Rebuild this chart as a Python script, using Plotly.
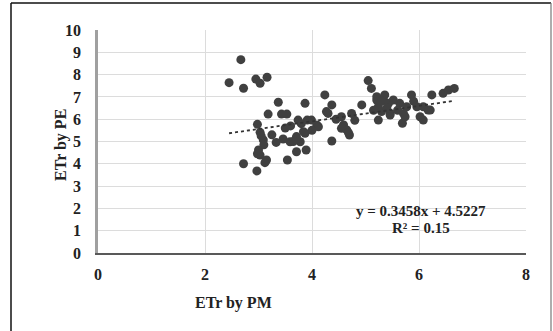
import plotly.graph_objects as go

# Daily reference evapotranspiration: Penman-Monteith (x) vs pan evaporation (y)
etr_pm = [2.67, 2.45, 2.72, 2.95, 3.03, 3.16, 3.37, 3.87, 3.18, 3.43,
          3.53, 2.98, 3.74, 3.91, 4.09, 3.03, 3.09, 3.33, 3.46, 3.59,
          3.78, 3.87, 3.00, 3.03, 3.15, 3.71, 3.89, 3.54, 2.72, 2.97,
          3.10, 3.05, 2.98, 3.12, 3.84, 3.71, 3.60, 3.80, 4.24, 4.37,
          4.27, 4.30, 4.93, 4.74, 4.55, 4.59, 4.65, 4.70, 4.55, 4.68,
          4.12, 3.99, 4.37, 5.05, 5.11, 5.21, 5.33, 5.43, 5.24, 5.30,
          5.24, 5.46, 5.64, 5.71, 5.69, 5.77, 5.36, 5.52, 5.86, 5.74,
          6.08, 6.02, 6.24, 6.21, 6.45, 6.55, 6.66, 5.96, 5.46, 6.08,
          6.17, 5.21, 5.30, 5.40, 5.60, 5.90, 5.15, 4.45, 4.80, 4.00,
          3.25, 3.50, 3.65]
etr_pe = [8.67, 7.64, 7.39, 7.80, 7.61, 7.88, 6.76, 6.71, 6.23, 6.23,
          6.23, 5.77, 5.96, 5.96, 5.74, 5.41, 5.07, 4.96, 5.11, 4.99,
          4.99, 5.37, 4.62, 4.39, 4.17, 4.54, 4.62, 4.17, 4.00, 3.68,
          4.85, 5.25, 4.45, 4.05, 5.44, 5.22, 5.70, 5.80, 7.09, 6.64,
          6.34, 6.26, 6.64, 6.26, 6.11, 5.74, 5.52, 5.29, 5.59, 5.40,
          5.66, 5.96, 5.02, 7.73, 7.38, 7.01, 6.94, 6.71, 6.56, 6.34,
          5.96, 6.26, 6.71, 6.26, 5.82, 6.56, 7.09, 6.86, 7.09, 6.11,
          5.96, 6.11, 7.09, 6.41, 7.16, 7.31, 7.38, 6.56, 6.19, 6.56,
          6.41, 6.86, 6.80, 6.50, 6.40, 6.80, 6.40, 6.00, 5.95, 5.50,
          5.30, 5.60, 5.00]

# Linear trendline coefficients
slope = 0.3458
intercept = 4.5227
r_squared = 0.15

x_ticks = [0, 2, 4, 6, 8]
y_ticks = list(range(0, 11))

font_family = "Liberation Serif"
dark = "#404040"
text_color = "#222222"

x_min, x_max = min(etr_pm), max(etr_pm)
trend_x = [x_min, x_max]
trend_y = [slope * v + intercept for v in trend_x]

fig = go.Figure()
fig.add_trace(go.Scatter(
    x=etr_pm, y=etr_pe, mode="markers",
    marker=dict(color=dark, size=9, line=dict(width=0)),
    showlegend=False, hoverinfo="x+y",
))
fig.add_trace(go.Scatter(
    x=trend_x, y=trend_y, mode="lines",
    line=dict(color="#333333", width=1.8, dash="dot"),
    showlegend=False, hoverinfo="skip",
))

W, H = 553, 331
ml, mr, mt, mb = 98, 27, 30, 78
pw, ph = W - ml - mr, H - mt - mb


def px_x(p):
    return (p - ml) / pw


def px_y(p):
    return (H - mb - p) / ph


fig.add_annotation(
    x=px_x(421), y=px_y(211), xref="paper", yref="paper",
    text=f"<b>y = {slope}x + {intercept}</b>", showarrow=False,
    font=dict(family=font_family, size=15, color=text_color),
    xanchor="center", yanchor="middle",
)
fig.add_annotation(
    x=px_x(421), y=px_y(228), xref="paper", yref="paper",
    text=f"<b>R² = {r_squared}</b>", showarrow=False,
    font=dict(family=font_family, size=15, color=text_color),
    xanchor="center", yanchor="middle",
)
fig.add_annotation(
    x=px_x(233), y=px_y(303), xref="paper", yref="paper",
    text="<b>ETr by PM</b>", showarrow=False,
    font=dict(family=font_family, size=16, color=text_color),
    xanchor="center", yanchor="middle",
)
fig.add_annotation(
    x=px_x(61), y=px_y(145), xref="paper", yref="paper",
    text="<b>ETr by PE</b>", showarrow=False, textangle=-90,
    font=dict(family=font_family, size=16, color=text_color),
    xanchor="center", yanchor="middle",
)

# Outer chart frame
fig.add_shape(type="line", xref="paper", yref="paper",
              x0=px_x(11), x1=px_x(551), y0=px_y(3), y1=px_y(3),
              line=dict(color="#111111", width=1.5))
fig.add_shape(type="line", xref="paper", yref="paper",
              x0=px_x(11), x1=px_x(11), y0=px_y(3), y1=px_y(331),
              line=dict(color="#111111", width=1.5))
fig.add_shape(type="line", xref="paper", yref="paper",
              x0=px_x(551), x1=px_x(551), y0=px_y(3), y1=px_y(331),
              line=dict(color="#777777", width=1.2))

fig.update_layout(
    width=W, height=H,
    margin=dict(l=ml, r=mr, t=mt, b=mb),
    paper_bgcolor="white", plot_bgcolor="white",
    font=dict(family=font_family, size=16, color=text_color),
    xaxis=dict(
        range=[0, 8], tickvals=x_ticks, ticktext=[f"<b>{t}</b>" for t in x_ticks],
        showgrid=True, gridcolor="#dcdcdc", gridwidth=1,
        showline=True, linecolor="#595959", linewidth=2,
        zeroline=False, ticks="", ticklen=0, ticklabelstandoff=6,
    ),
    yaxis=dict(
        range=[0, 10], tickvals=y_ticks, ticktext=[f"<b>{t}</b>" for t in y_ticks],
        showgrid=True, gridcolor="#dcdcdc", gridwidth=1,
        showline=True, linecolor="#a0a0a0", linewidth=2.5,
        zeroline=False, ticks="", ticklen=0, ticklabelstandoff=11,
    ),
)

fig.write_html("out.html")
